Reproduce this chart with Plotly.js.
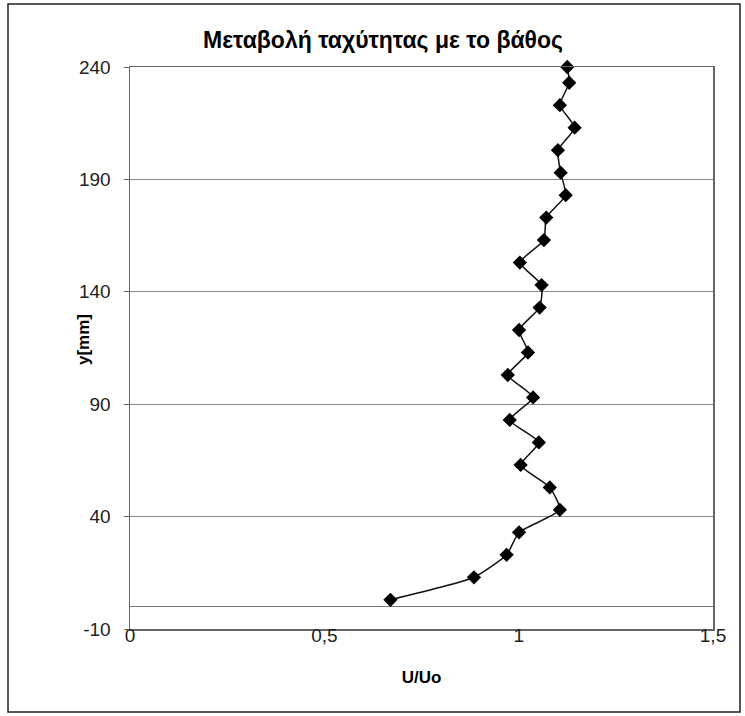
<!DOCTYPE html>
<html>
<head>
<meta charset="utf-8">
<script src="https://cdn.plot.ly/plotly-3.0.1.min.js"></script>
<style>
html,body{margin:0;padding:0;background:#fff;}
#chart{width:745px;height:716px;}
</style>
</head>
<body>
<div id="chart"></div>
<script>
// Data
const velocityRatio = [0.670, 0.885, 0.969, 1.001, 1.106, 1.080, 1.005, 1.052, 0.977, 1.037,
                       0.972, 1.024, 1.001, 1.054, 1.059, 1.003, 1.065, 1.071, 1.121, 1.108,
                       1.101, 1.144, 1.106, 1.130, 1.125];
const depthMm = [3, 13, 23, 33, 43, 53, 63, 73, 83, 93,
                 103, 113, 123, 133, 143, 153, 163, 173, 183, 193,
                 203, 213, 223, 233, 240];
const xTickVals = [0, 0.5, 1, 1.5];
const xTickText = ["0", "0,5", "1", "1,5"];
const yTickVals = [-10, 40, 90, 140, 190, 240];
const yTickText = ["-10", "40", "90", "140", "190", "240"];
const chartTitle = "Μεταβολή ταχύτητας με το βάθος";
const xTitle = "U/Uo";
const yTitle = "y[mm]";

const trace = {
  x: velocityRatio,
  y: depthMm,
  type: "scatter",
  mode: "lines+markers",
  line: {color: "#111", width: 1.5, shape: "spline", smoothing: 0.5},
  marker: {symbol: "diamond", size: 11, color: "#000"},
  cliponaxis: false,
  hoverinfo: "x+y"
};

const plotL = 130, plotR = 713, plotT = 67, plotB = 629;
const W = 745, H = 716;
const pw = plotR - plotL, ph = plotB - plotT;
function px2paperX(p){ return (p - plotL) / pw; }
function px2paperY(p){ return (plotB - p) / ph; }

const FONT = "Liberation Sans, Arial, sans-serif";

const layout = {
  width: W, height: H,
  margin: {l: plotL, r: W - plotR, t: plotT, b: H - plotB, pad: 0},
  paper_bgcolor: "#fff",
  plot_bgcolor: "#fff",
  showlegend: false,
  font: {family: FONT, color: "#222", size: 19},
  title: {
    text: "<b>" + chartTitle + "</b>",
    font: {family: FONT, size: 23, color: "#000"},
    x: 383 / W, xref: "container", xanchor: "center",
    y: 1 - 40 / H, yref: "container", yanchor: "middle"
  },
  xaxis: {
    range: [0, 1.5],
    tickvals: xTickVals, ticktext: xTickText,
    ticks: "",
    showgrid: false, zeroline: false,
    showline: true, linecolor: "#666", linewidth: 1.5, mirror: true,
    tickfont: {family: FONT, size: 19, color: "#222"},
    ticklabelstandoff: -11,
    title: {text: "<b>" + xTitle + "</b>", font: {family: FONT, size: 17, color: "#000"}, standoff: 26}
  },
  yaxis: {
    range: [-10, 240],
    tickvals: yTickVals, ticktext: yTickText,
    ticks: "outside", ticklen: 5, tickcolor: "#666",
    showgrid: true, gridcolor: "#8a8a8a", gridwidth: 1,
    zeroline: true, zerolinecolor: "#777", zerolinewidth: 1,
    showline: true, linecolor: "#666", linewidth: 1.5, mirror: true,
    tickfont: {family: FONT, size: 19, color: "#222"},
    ticklabelstandoff: 9
  },
  annotations: [{
    text: "<b>" + yTitle + "</b>",
    xref: "paper", yref: "paper",
    x: px2paperX(83), y: px2paperY(340),
    xanchor: "center", yanchor: "middle",
    textangle: -90, showarrow: false,
    font: {family: FONT, size: 17, color: "#000"}
  }],
  shapes: [{
    type: "rect", xref: "paper", yref: "paper",
    x0: px2paperX(8), x1: px2paperX(740),
    y0: px2paperY(712), y1: px2paperY(4),
    line: {color: "#222", width: 1.5}, fillcolor: "rgba(0,0,0,0)", layer: "below"
  }]
};

Plotly.newPlot("chart", [trace], layout, {displayModeBar: false, staticPlot: true});
</script>
</body>
</html>
